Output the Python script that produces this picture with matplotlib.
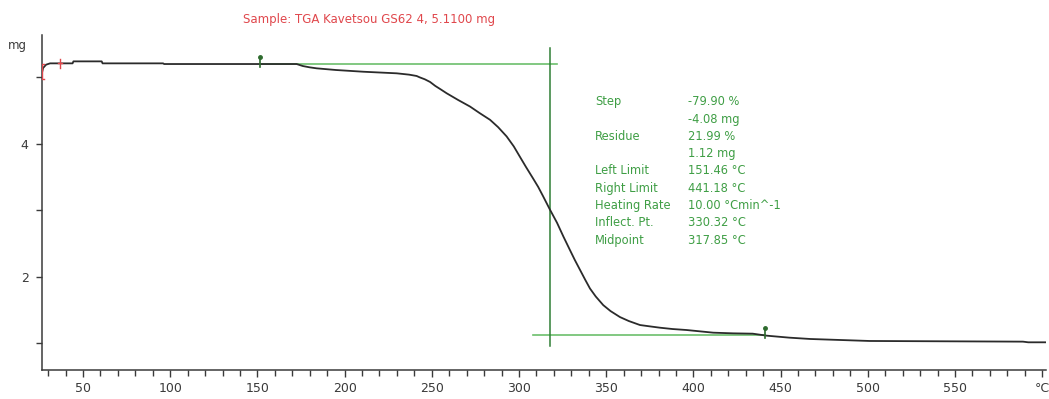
import matplotlib
matplotlib.use("Agg")
import matplotlib.pyplot as plt

# TGA curve: sample temperature (°C) and mass (mg)
temperature = [26.2, 27.1, 28.8, 31.1, 44.0, 44.5, 60.7, 61.2, 95.9, 96.5,
               172.5, 176.0, 180.0, 184.0, 195.0, 210.7, 229.9, 237.0, 241.3,
               243.0, 246.0, 249.0, 252.0, 255.0, 258.5, 265.0, 271.9, 277.5,
               283.4, 288.0, 292.9, 297.0, 300.6, 304.0, 308.0, 311.0, 313.8,
               317.5, 321.8, 325.5, 329.2, 332.0, 335.0, 338.0, 340.7, 344.0,
               348.3, 352.5, 357.9, 363.0, 369.4, 375.0, 380.8, 388.0, 396.1,
               411.4, 422.7, 434.0, 442.0, 455.0, 467.0, 501.0, 589.0, 592.0,
               602.0]
mass = [5.04, 5.14, 5.19, 5.21, 5.21, 5.24, 5.24, 5.21, 5.21, 5.20,
        5.20, 5.17, 5.15, 5.135, 5.11, 5.084, 5.06, 5.04, 5.02,
        5.00, 4.97, 4.93, 4.87, 4.82, 4.76, 4.66, 4.56, 4.46,
        4.36, 4.25, 4.11, 3.96, 3.80, 3.65, 3.48, 3.35, 3.21,
        3.02, 2.81, 2.60, 2.40, 2.25, 2.10, 1.95, 1.82, 1.70,
        1.57, 1.48, 1.39, 1.33, 1.27, 1.25, 1.23, 1.21, 1.195,
        1.155, 1.145, 1.14, 1.11, 1.08, 1.06, 1.03, 1.02, 1.01,
        1.01]

# Step evaluation results
step_pct = -79.90
step_mg = -4.08
residue_pct = 21.99
residue_mg = 1.12
left_limit = 151.46
right_limit = 441.18
heating_rate = 10.00
inflect_pt = 330.32
midpoint = 317.85
sample_label = "Sample: TGA Kavetsou GS62 4, 5.1100 mg"

x_ticks = [50, 100, 150, 200, 250, 300, 350, 400, 450, 500, 550, 600]
x_tick_labels = ["50", "100", "150", "200", "250", "300", "350", "400",
                 "450", "500", "550", "°C"]
y_ticks = [1, 2, 3, 4, 5]
y_tick_labels = ["", "2", "", "4", ""]

upper_level = residue_mg - step_mg
lower_level = residue_mg

W, H = 1049, 399
fig = plt.figure(figsize=(W / 100, H / 100), dpi=100)
ax = fig.add_axes([41.7 / W, 1 - 370 / H, (1046 - 41.7) / W, (370 - 35) / H])

axis_col = "#3a3a3a"
for side in ("top", "right"):
    ax.spines[side].set_visible(False)
for side in ("left", "bottom"):
    ax.spines[side].set_color(axis_col)
    ax.spines[side].set_linewidth(1.1)

ax.set_xlim(26.3, 602.2)
ax.set_ylim(0.593, 5.637)

ax.set_xticks(x_ticks)
ax.set_xticklabels(x_tick_labels)
ax.set_xticks(range(30, 600, 10), minor=True)
ax.set_yticks(y_ticks)
ax.set_yticklabels(y_tick_labels)
ax.tick_params(axis="both", which="both", direction="out", color=axis_col,
               width=1.0, labelcolor="#3a3a3a", labelsize=9)
ax.tick_params(axis="x", which="major", length=5, pad=4)
ax.tick_params(axis="x", which="minor", length=4)
ax.tick_params(axis="y", which="major", length=4.5, pad=5)

# Step construction lines
base_col = "#6cbf6c"
ax.plot([left_limit, 322.0], [upper_level, upper_level], color=base_col, lw=1.2, zorder=2)
ax.plot([308.0, right_limit], [lower_level, lower_level], color=base_col, lw=1.2, zorder=2)
ax.plot([midpoint, midpoint], [0.95, 5.44], color="#2f7f35", lw=1.1, zorder=2)

# Measured curve
ax.plot(temperature, mass, color="#2b2b2b", lw=1.3, zorder=3,
        solid_joinstyle="round")

# Evaluation limit markers
mark_col = "#2e6b2e"
for t, lvl in ((left_limit, upper_level), (right_limit, lower_level)):
    ax.plot([t, t], [lvl - 0.05, lvl + 0.1], color=mark_col, lw=1.2, zorder=4)
    ax.plot([t], [lvl + 0.1], marker="o", ms=2.5, color=mark_col, zorder=4)

# Start markers
red = "#e0474c"
ax.plot([36.8, 36.8], [5.14, 5.28], color=red, lw=1.0, zorder=4)
ax.plot([35.6, 38.0], [5.21, 5.21], color=red, lw=1.0, zorder=4)
ax.plot([27.5, 26.4, 26.4, 27.5], [5.20, 5.20, 4.98, 4.98], color=red, lw=1.0, zorder=4)

fig.text(369 / W, 1 - 19 / H, sample_label, color=red, fontsize=8.5,
         ha="center", va="center")
fig.text(17 / W, 1 - 45 / H, "mg", color="#3a3a3a", fontsize=8.5,
         ha="center", va="center")

rows = [
    ("Step", f"{step_pct:.2f} %"),
    ("", f"{step_mg:.2f} mg"),
    ("Residue", f"{residue_pct:.2f} %"),
    ("", f"{residue_mg:.2f} mg"),
    ("Left Limit", f"{left_limit:.2f} °C"),
    ("Right Limit", f"{right_limit:.2f} °C"),
    ("Heating Rate", f"{heating_rate:.2f} °Cmin^-1"),
    ("Inflect. Pt.", f"{inflect_pt:.2f} °C"),
    ("Midpoint", f"{midpoint:.2f} °C"),
]
txt_col = "#3f9e45"
for i, (name, val) in enumerate(rows):
    yy = 1 - (101.7 + 17.3 * i) / H
    if name:
        fig.text(595 / W, yy, name, color=txt_col, fontsize=8.3, va="center", ha="left")
    fig.text(688 / W, yy, val, color=txt_col, fontsize=8.3, va="center", ha="left")

fig.savefig("out.png", dpi=100, facecolor="white")
